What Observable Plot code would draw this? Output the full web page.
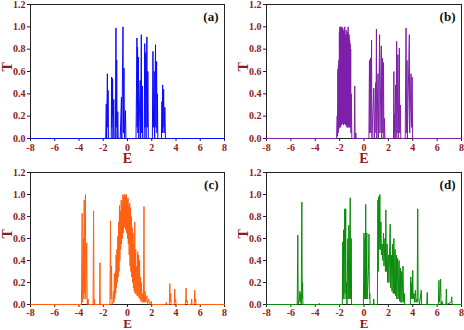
<!DOCTYPE html>
<html><head><meta charset="utf-8">
<script src="https://cdn.jsdelivr.net/npm/d3@7"></script>
<script src="https://cdn.jsdelivr.net/npm/@observablehq/plot@0.6"></script>
<style>
body{margin:0;background:#fff;}
#root{position:relative;width:464px;height:330px;overflow:hidden;background:#fff;}
#root svg{position:absolute;overflow:visible;}
</style></head><body><div id="root"></div>
<script>
const xTicks = [-8, -6, -4, -2, 0, 2, 4, 6, 8];
const yTicks = [0, 0.2, 0.4, 0.6, 0.8, 1.0, 1.2];
const panelLabels = ["(a)", "(b)", "(c)", "(d)"];
const panelColors = ["#0a0aff", "#7d1fa8", "#ff5f0f", "#0a8a0a"];
const xLabel = "E";
const yLabel = "T";

// [E, T] pairs
const specA = [[-8,0],[-1.8,0],[-1.75,0.31],[-1.72,0],[-1.66,0.58],[-1.63,0.1],[-1.6,0.43],[-1.57,0],[-1.34,0],[-1.31,0.55],[-1.29,0.1],[-1.27,0.54],[-1.25,0.2],[-1.23,0.53],[-1.2,0],[-1.13,0.35],[-1.1,0],[-1.0,0],[-0.95,0.99],[-0.93,0.1],[-0.89,0.7],[-0.86,0],[-0.8,0.24],[-0.77,0],[-0.6,0],[-0.5,0.37],[-0.47,0],[-0.37,1.0],[-0.34,0.05],[-0.29,0.63],[-0.25,0],[-0.17,0.25],[-0.13,0],[0.7,0],[0.78,0.9],[0.8,0.1],[0.83,0.82],[0.86,0.05],[0.9,0.73],[0.93,0],[1.05,0.52],[1.08,0],[1.14,0.93],[1.17,0.05],[1.22,0.47],[1.25,0],[1.38,0],[1.42,0.85],[1.45,0.1],[1.5,0.77],[1.53,0],[1.6,0.91],[1.63,0.1],[1.68,0.6],[1.72,0],[2.05,0],[2.1,0.78],[2.13,0.1],[2.2,0.6],[2.24,0],[2.31,0.84],[2.34,0.1],[2.4,0.69],[2.43,0.05],[2.47,0.4],[2.5,0],[2.8,0],[2.84,0.33],[2.87,0.05],[2.9,0.48],[2.93,0.1],[2.98,0.44],[3.02,0.05],[3.08,0.28],[3.13,0],[8,0]];

const specB = [[-8,0],[-2.25,0],[-2.2,0.2],[-2.18,0.02],[-2.14,0.62],[-2.12,0.05],[-2.1,0.65],[-2.08,0.08],[-2.06,0.7],[-2.04,0.1],[-2.02,0.95],[-2.0,0.1],[-1.98,1.0],[-1.96,0.12],[-1.94,0.99],[-1.92,0.1],[-1.9,1.0],[-1.88,0.13],[-1.86,0.98],[-1.84,0.12],[-1.82,1.0],[-1.8,0.14],[-1.78,0.96],[-1.76,0.13],[-1.74,0.99],[-1.72,0.15],[-1.7,0.95],[-1.68,0.12],[-1.66,0.97],[-1.64,0.14],[-1.62,0.92],[-1.6,0.13],[-1.58,1.0],[-1.56,0.15],[-1.54,0.93],[-1.52,0.12],[-1.5,0.9],[-1.48,0.14],[-1.46,0.97],[-1.44,0.12],[-1.42,0.92],[-1.4,0.1],[-1.38,0.88],[-1.36,0.12],[-1.34,0.95],[-1.32,0.1],[-1.3,1.0],[-1.28,0.12],[-1.26,0.9],[-1.24,0.1],[-1.22,0.93],[-1.2,0.12],[-1.18,0.88],[-1.16,0.1],[-1.14,0.85],[-1.12,0.1],[-1.09,0.8],[-1.07,0.05],[-1.04,0.4],[-1.0,0],[-0.8,0],[-0.76,0.47],[-0.73,0],[-0.67,0.05],[-0.64,0],[0.4,0],[0.45,0.7],[0.48,0.05],[0.53,0.72],[0.56,0.05],[0.62,0.88],[0.65,0],[0.8,0.45],[0.84,0],[0.95,0.5],[0.98,0.05],[1.02,0.98],[1.05,0],[1.15,0.58],[1.18,0],[1.28,0.93],[1.31,0.05],[1.42,0.83],[1.45,0],[1.52,0.72],[1.55,0.05],[1.6,0.68],[1.63,0],[1.68,0.18],[1.72,0],[2.42,0],[2.45,0.6],[2.48,0.05],[2.5,0.22],[2.53,0],[2.6,0.48],[2.63,0],[2.68,0.87],[2.71,0.05],[2.78,0.75],[2.81,0],[2.9,0.81],[2.93,0.05],[2.98,0.3],[3.02,0],[3.38,0],[3.45,0.99],[3.48,0.05],[3.53,0.7],[3.56,0],[3.72,0.93],[3.75,0.05],[3.86,0.58],[3.9,0.1],[3.95,0.55],[3.99,0],[8,0]];

const specC = [[-8,0],[-3.8,0],[-3.74,0.83],[-3.71,0.02],[-3.62,0.6],[-3.6,0.05],[-3.57,0.95],[-3.54,0.1],[-3.47,1.0],[-3.44,0.05],[-3.36,0.56],[-3.32,0],[-3.25,0.05],[-3.22,0],[-2.84,0],[-2.8,0.85],[-2.76,0],[-2.72,0.05],[-2.7,0],[-2.3,0],[-2.27,0.38],[-2.24,0],[-1.45,0],[-1.4,0.76],[-1.37,0.05],[-1.32,0.35],[-1.28,0],[-1.2,0.02],[-1.15,0.12],[-1.12,0.02],[-1.08,0.28],[-1.05,0.05],[-1.0,0.3],[-0.97,0.1],[-0.94,0.45],[-0.91,0.15],[-0.87,0.5],[-0.84,0.2],[-0.8,0.62],[-0.77,0.25],[-0.73,0.75],[-0.7,0.3],[-0.66,0.9],[-0.63,0.4],[-0.59,0.85],[-0.56,0.5],[-0.52,0.95],[-0.49,0.55],[-0.45,0.92],[-0.42,0.6],[-0.38,1.0],[-0.35,0.65],[-0.31,0.98],[-0.28,0.7],[-0.24,1.0],[-0.21,0.7],[-0.17,0.99],[-0.14,0.68],[-0.1,1.0],[-0.07,0.65],[-0.03,0.95],[0.0,0.6],[0.04,0.97],[0.07,0.55],[0.11,0.9],[0.14,0.45],[0.18,0.92],[0.21,0.35],[0.25,0.88],[0.28,0.3],[0.32,0.8],[0.35,0.25],[0.39,0.7],[0.42,0.2],[0.46,0.65],[0.49,0.15],[0.53,0.55],[0.56,0.12],[0.6,0.75],[0.63,0.1],[0.68,0.5],[0.71,0.1],[0.76,0.35],[0.79,0.08],[0.84,0.48],[0.87,0.08],[0.92,0.45],[0.95,0.06],[1.0,0.4],[1.03,0.05],[1.08,0.25],[1.11,0.03],[1.16,0.2],[1.2,0.02],[1.28,0.1],[1.32,0.02],[1.36,0.89],[1.39,0.02],[1.45,0.12],[1.5,0.02],[1.6,0.08],[1.65,0.01],[1.75,0.05],[1.8,0],[1.95,0.03],[2.0,0],[3.15,0],[3.2,0.02],[3.25,0],[3.45,0],[3.49,0.19],[3.52,0.02],[3.57,0.1],[3.6,0],[3.85,0],[3.9,0.14],[3.93,0.02],[3.97,0.05],[4.0,0],[4.75,0],[4.8,0.05],[4.83,0.15],[4.86,0.02],[4.92,0.04],[4.95,0],[5.25,0],[5.29,0.05],[5.32,0],[5.5,0],[5.55,0.13],[5.58,0.02],[5.62,0.05],[5.65,0],[8,0]];

const specD = [[-8,0],[-5.48,0],[-5.43,0.63],[-5.4,0],[-5.3,0.05],[-5.26,0.12],[-5.23,0.02],[-5.18,0.1],[-5.15,0],[-5.1,0.93],[-5.07,0.05],[-5.04,0.2],[-5.01,0],[-3.7,0],[-3.67,0.01],[-3.64,0],[-1.78,0],[-1.74,0.57],[-1.72,0.05],[-1.67,0.68],[-1.65,0.05],[-1.58,0.87],[-1.55,0.1],[-1.5,0.87],[-1.47,0.05],[-1.43,0.2],[-1.4,0],[-1.32,0.6],[-1.3,0.05],[-1.24,0.72],[-1.21,0.05],[-1.13,0.97],[-1.1,0.05],[-1.05,0.6],[-1.02,0],[-0.05,0],[0.0,0.65],[0.03,0.05],[0.08,0.6],[0.11,0.05],[0.14,0.91],[0.17,0.05],[0.23,0.65],[0.26,0.05],[0.36,0.3],[0.41,0.64],[0.44,0.05],[0.48,0.1],[0.5,0],[0.77,0],[0.8,0.05],[0.83,0],[1.1,0],[1.14,0.95],[1.17,0.3],[1.21,0.98],[1.24,0.5],[1.3,1.0],[1.34,0.5],[1.39,0.75],[1.43,0.45],[1.5,0.55],[1.54,0.4],[1.6,0.65],[1.64,0.35],[1.72,0.6],[1.76,0.3],[1.79,0.86],[1.83,0.3],[1.9,0.55],[1.94,0.2],[2.01,0.45],[2.05,0.2],[2.12,0.6],[2.15,0.73],[2.19,0.15],[2.26,0.45],[2.3,0.12],[2.36,0.55],[2.4,0.1],[2.45,0.6],[2.49,0.1],[2.55,0.5],[2.59,0.08],[2.65,0.45],[2.69,0.05],[2.76,0.42],[2.8,0.05],[2.88,0.4],[2.92,0.03],[2.98,0.33],[3.02,0.02],[3.08,0.3],[3.12,0.02],[3.2,0.35],[3.25,0.02],[3.3,0.1],[3.35,0],[3.8,0],[3.84,0.25],[3.87,0.05],[3.93,0.2],[3.96,0.05],[4.0,0.31],[4.03,0.05],[4.1,0.1],[4.14,0.02],[4.22,0.13],[4.26,0.02],[4.32,0.05],[4.36,0.02],[4.41,0.87],[4.44,0.05],[4.5,0.05],[4.55,0],[4.7,0.13],[4.73,0],[5.15,0],[5.19,0.11],[5.22,0],[6.1,0],[6.15,0.22],[6.18,0.02],[6.24,0.1],[6.29,0.23],[6.32,0],[6.4,0.03],[6.45,0],[6.72,0],[6.76,0.14],[6.79,0],[7.15,0.02],[7.2,0.07],[7.23,0],[8,0]];

const spectra = [specA, specB, specC, specD];
const layouts = [
  {left: 0,   top: 0,   mL: 30, mR: 8, mT: 4, mB: 27, eDy: 20.5, pad: 2, eSize: 14},
  {left: 232, top: 0,   mL: 34, mR: 3, mT: 4, mB: 27, eDy: 20.5, pad: 2, eSize: 14},
  {left: 0,   top: 165, mL: 30, mR: 8, mT: 7, mB: 26, eDy: 19.5, pad: 1, eSize: 13},
  {left: 232, top: 165, mL: 34, mR: 3, mT: 7, mB: 26, eDy: 19.5, pad: 1, eSize: 13}
];
const maroon = "#8b1a1a";
const serif = "'Liberation Serif', 'Times New Roman', serif";

const root = document.getElementById("root");
spectra.forEach((data, i) => {
  const L = layouts[i];
  const svg = Plot.plot({
    width: 232, height: 165,
    marginLeft: L.mL, marginRight: L.mR, marginTop: L.mT, marginBottom: L.mB,
    x: {domain: [-8, 8]},
    y: {domain: [0, 1.2]},
    style: {fontFamily: serif, fontSize: "10px", fontWeight: "bold", background: "transparent", overflow: "visible"},
    marks: [
      Plot.frame({stroke: "#222", strokeWidth: 1}),
      Plot.axisX({ticks: xTicks, tickSize: 3, tickPadding: L.pad, stroke: "#222", fill: maroon, label: null, tickFormat: d => String(d)}),
      Plot.axisY({ticks: yTicks, tickSize: 3, tickPadding: 2, stroke: "#222", fill: maroon, label: null, tickFormat: d3.format(".1f")}),
      Plot.line(data, {x: d => d[0], y: d => d[1], stroke: panelColors[i], strokeWidth: 1}),
      Plot.text([panelLabels[i]], {frameAnchor: "top-right", dx: -6, dy: 7, fontSize: 13, fill: "#111", fontWeight: "bold"}),
      Plot.text([xLabel], {frameAnchor: "bottom", dy: L.eDy, fontSize: L.eSize, fill: maroon, fontWeight: "bold", lineAnchor: "middle"}),
      Plot.text([yLabel], {frameAnchor: "left", dx: -23, rotate: -90, fontSize: 14, fill: maroon, fontWeight: "bold", lineAnchor: "middle"})
    ]
  });
  svg.style.left = L.left + "px";
  svg.style.top = L.top + "px";
  root.appendChild(svg);
});
</script>
</body></html>
